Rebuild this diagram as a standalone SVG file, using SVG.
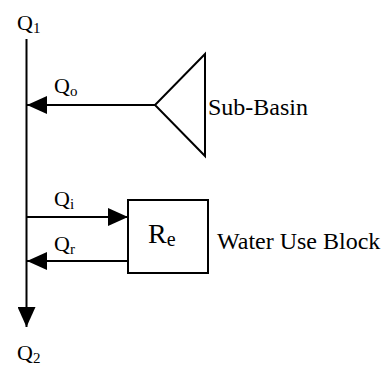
<svg xmlns="http://www.w3.org/2000/svg" width="390" height="365" viewBox="0 0 390 365">
<style>
text{font-family:"Liberation Serif","Times New Roman",serif;fill:#000}
.t{font-size:24px}
.q{font-size:22px}
.s{font-size:15px}
.ln{stroke:#000;stroke-width:2;fill:none}
</style>
<defs>
<marker id="ah" viewBox="0 0 20 18" refX="20" refY="9" markerWidth="20" markerHeight="18" markerUnits="userSpaceOnUse" orient="auto">
<path d="M0,0 L20,9 L0,18 Z" fill="#000"/>
</marker>
</defs>
<rect width="390" height="365" fill="#fff"/>
<g id="connectors">
<line class="ln" x1="26.5" y1="39" x2="26.5" y2="327" marker-end="url(#ah)"/>
<line class="ln" x1="155" y1="105" x2="27" y2="105" marker-end="url(#ah)"/>
<line class="ln" x1="27" y1="217" x2="128" y2="217" marker-end="url(#ah)"/>
<line class="ln" x1="128" y1="261" x2="27" y2="261" marker-end="url(#ah)"/>
</g>
<g id="q1"><text class="q" x="17" y="30">Q<tspan class="s" dy="3">1</tspan></text></g>
<g id="q2"><text class="q" x="17" y="360">Q<tspan class="s" dy="3">2</tspan></text></g>
<g id="qo"><text class="q" x="54" y="93">Q<tspan class="s" dy="3">o</tspan></text></g>
<g id="qi"><text class="q" x="54" y="206">Q<tspan class="s" dy="3">i</tspan></text></g>
<g id="qr"><text class="q" x="54" y="251">Q<tspan class="s" dy="3">r</tspan></text></g>
<g id="subbasin">
<path class="ln" d="M205,54 L155,105 L205,156 Z"/>
<text class="t" x="208" y="115">Sub-Basin</text>
</g>
<g id="wateruse">
<rect class="ln" x="128" y="200" width="80" height="73"/>
<text x="148" y="243" font-size="28">R<tspan font-size="20" dy="3">e</tspan></text>
<text class="t" x="217" y="249">Water Use Block</text>
</g>
</svg>
